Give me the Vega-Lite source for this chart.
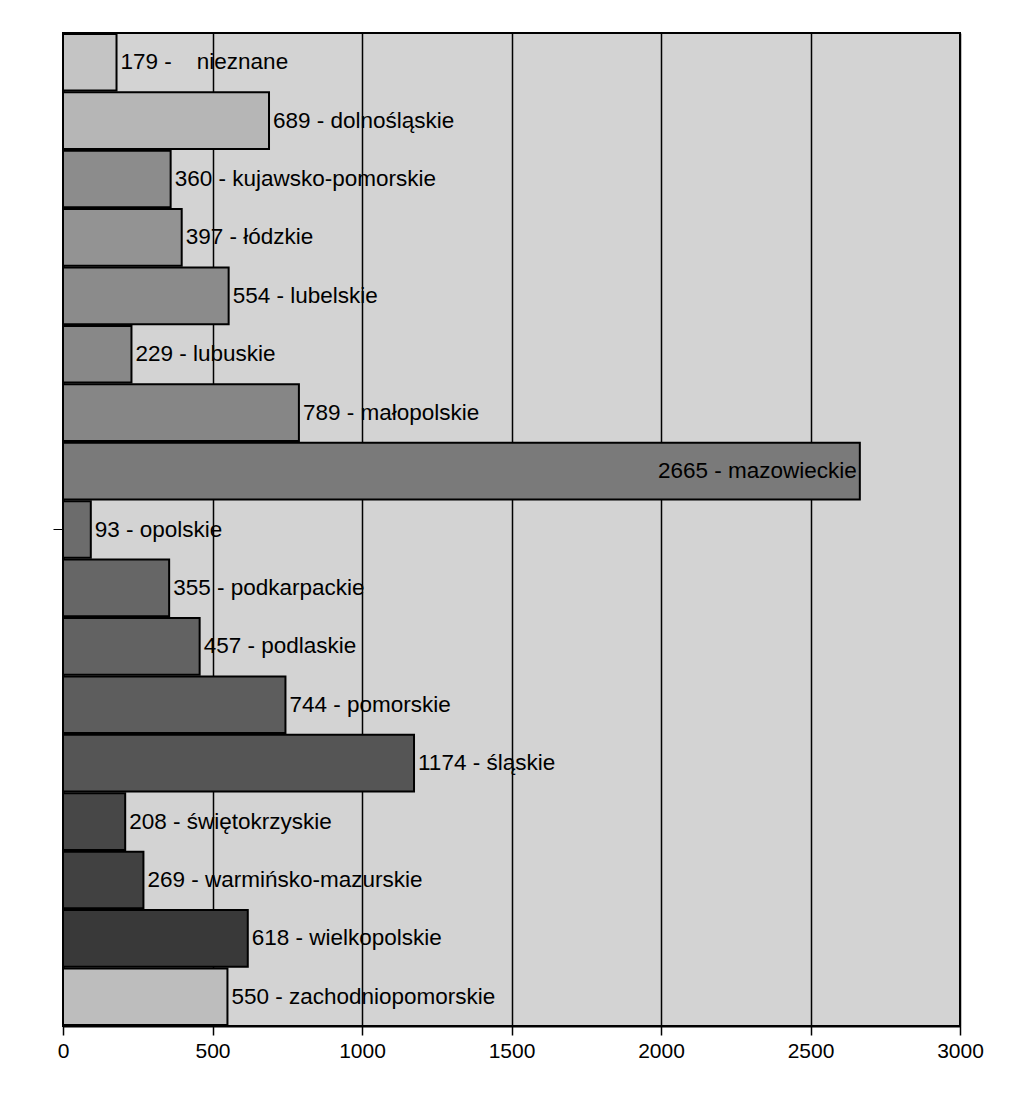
{
  "$schema": "https://vega.github.io/schema/vega-lite/v6.json",
  "autosize": {"type": "none"},
  "width": 897,
  "height": 993,
  "padding": {"left": 63, "top": 33, "right": 64, "bottom": 93},
  "background": "white",
  "config": {
    "view": {"fill": "#d3d3d3", "stroke": "black", "strokeWidth": 2},
    "font": "Liberation Sans"
  },
  "data": {
    "values": [
      {"region": "nieznane", "value": 179, "label": "179 -\u00a0\u00a0\u00a0\u00a0nieznane"},
      {"region": "dolnośląskie", "value": 689, "label": "689 - dolnośląskie"},
      {"region": "kujawsko-pomorskie", "value": 360, "label": "360 - kujawsko-pomorskie"},
      {"region": "łódzkie", "value": 397, "label": "397 - łódzkie"},
      {"region": "lubelskie", "value": 554, "label": "554 - lubelskie"},
      {"region": "lubuskie", "value": 229, "label": "229 - lubuskie"},
      {"region": "małopolskie", "value": 789, "label": "789 - małopolskie"},
      {"region": "mazowieckie", "value": 2665, "label": "2665 - mazowieckie"},
      {"region": "opolskie", "value": 93, "label": "93 - opolskie"},
      {"region": "podkarpackie", "value": 355, "label": "355 - podkarpackie"},
      {"region": "podlaskie", "value": 457, "label": "457 - podlaskie"},
      {"region": "pomorskie", "value": 744, "label": "744 - pomorskie"},
      {"region": "śląskie", "value": 1174, "label": "1174 - śląskie"},
      {"region": "świętokrzyskie", "value": 208, "label": "208 - świętokrzyskie"},
      {"region": "warmińsko-mazurskie", "value": 269, "label": "269 - warmińsko-mazurskie"},
      {"region": "wielkopolskie", "value": 618, "label": "618 - wielkopolskie"},
      {"region": "zachodniopomorskie", "value": 550, "label": "550 - zachodniopomorskie"}
    ]
  },
  "encoding": {
    "y": {
      "field": "region",
      "type": "nominal",
      "sort": null,
      "scale": {"paddingInner": 0.03, "paddingOuter": 0.015},
      "axis": {
        "title": null,
        "labels": false,
        "values": ["opolskie"],
        "tickColor": "black",
        "tickSize": 10,
        "tickWidth": 1,
        "domainColor": "black",
        "domainWidth": 2,
        "grid": false
      }
    },
    "x": {
      "field": "value",
      "type": "quantitative",
      "scale": {"domain": [0, 3000], "nice": false},
      "axis": {
        "title": null,
        "values": [0, 500, 1000, 1500, 2000, 2500, 3000],
        "format": "d",
        "labelFlush": false,
        "grid": true,
        "gridColor": "black",
        "gridWidth": 1.5,
        "gridOpacity": 1,
        "domainColor": "black",
        "domainWidth": 2,
        "tickColor": "black",
        "tickSize": 9,
        "tickWidth": 1.5,
        "labelFontSize": 21,
        "labelColor": "black",
        "labelPadding": 5,
        "labelFont": "Liberation Sans"
      }
    }
  },
  "layer": [
    {
      "mark": {"type": "bar", "stroke": "black", "strokeWidth": 2},
      "encoding": {
        "color": {
          "field": "region",
          "type": "nominal",
          "sort": null,
          "legend": null,
          "scale": {
            "domain": ["nieznane", "dolnośląskie", "kujawsko-pomorskie", "łódzkie", "lubelskie", "lubuskie", "małopolskie", "mazowieckie", "opolskie", "podkarpackie", "podlaskie", "pomorskie", "śląskie", "świętokrzyskie", "warmińsko-mazurskie", "wielkopolskie", "zachodniopomorskie"],
            "range": ["#c4c4c4", "#b6b6b6", "#8c8c8c", "#939393", "#8b8b8b", "#888888", "#868686", "#7a7a7a", "#6c6c6c", "#666666", "#626262", "#5d5d5d", "#555555", "#474747", "#414141", "#393939", "#bdbdbd"]
          }
        }
      }
    },
    {
      "transform": [{"filter": "datum.value < 2000"}],
      "mark": {"type": "text", "align": "left", "baseline": "middle", "dx": 4, "fontSize": 22.5, "color": "black", "font": "Liberation Sans"},
      "encoding": {"text": {"field": "label"}}
    },
    {
      "transform": [{"filter": "datum.value >= 2000"}],
      "mark": {"type": "text", "align": "right", "baseline": "middle", "dx": -3, "fontSize": 22.5, "color": "black", "font": "Liberation Sans"},
      "encoding": {"text": {"field": "label"}}
    }
  ]
}
